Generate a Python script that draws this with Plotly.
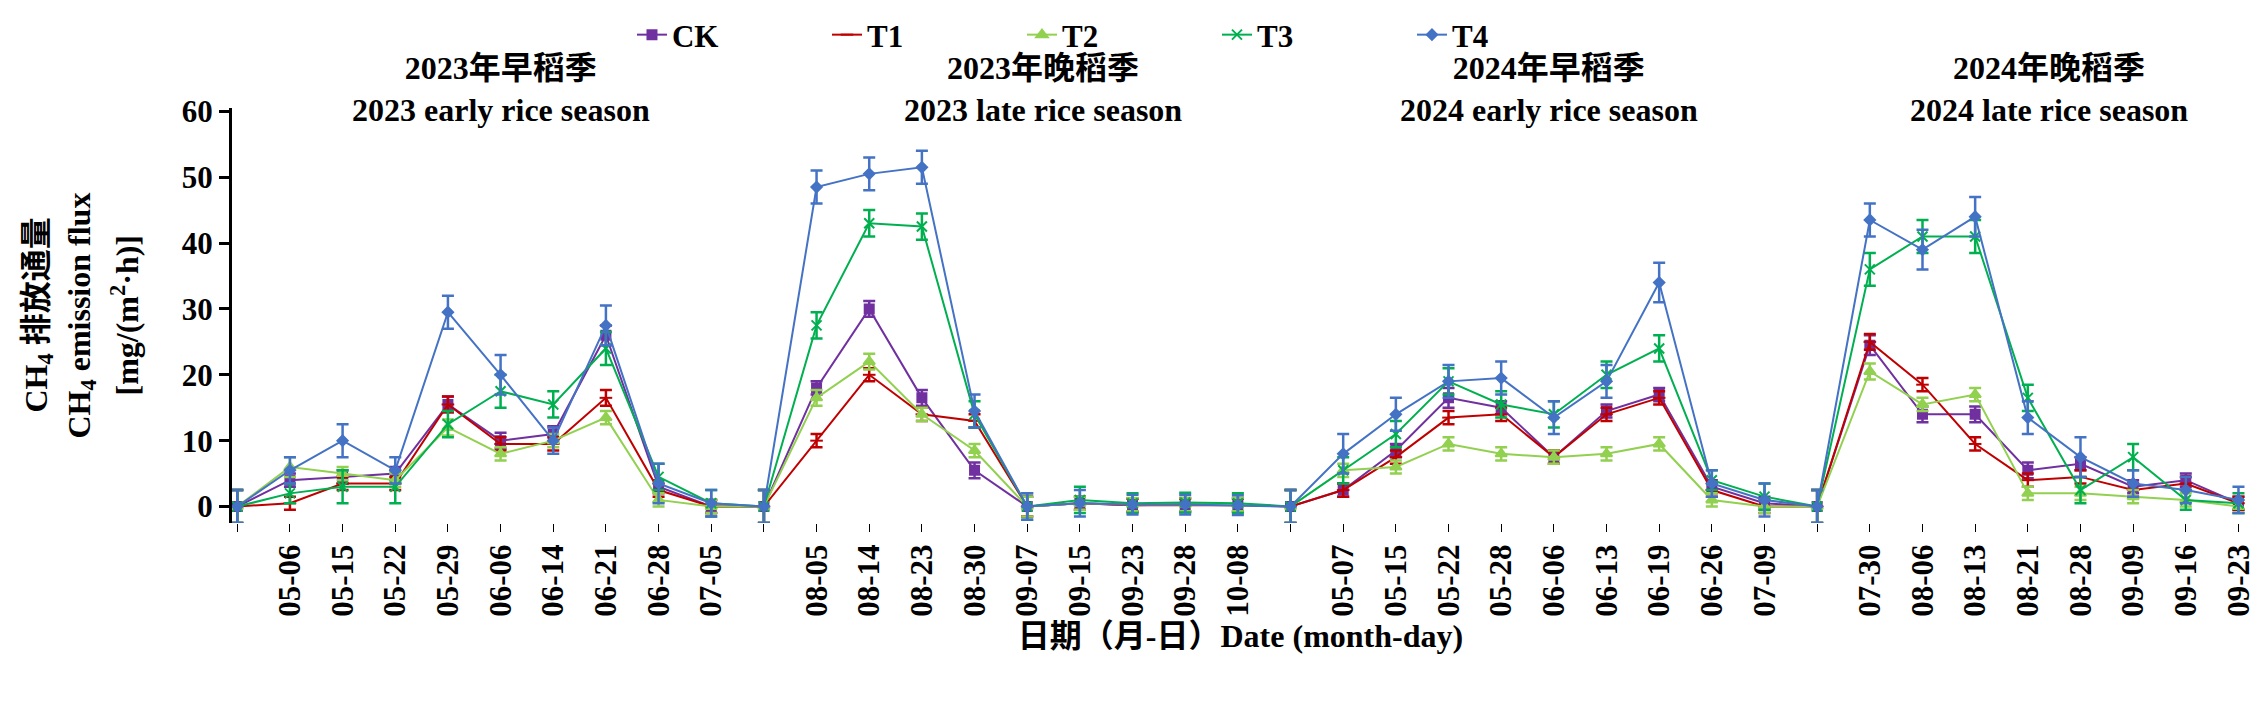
import plotly.graph_objects as go

# x labels per season; '' = season start point
season1 = ["", "05-06", "05-15", "05-22", "05-29", "06-06", "06-14", "06-21", "06-28", "07-05"]
season2 = ["", "08-05", "08-14", "08-23", "08-30", "09-07", "09-15", "09-23", "09-28", "10-08"]
season3 = ["", "05-07", "05-15", "05-22", "05-28", "06-06", "06-13", "06-19", "06-26", "07-09"]
season4 = ["", "07-30", "08-06", "08-13", "08-21", "08-28", "09-09", "09-16", "09-23"]
labels = season1 + season2 + season3 + season4

ck = [0, 4, 4.5, 5, 15.5, 10, 11, 26, 3, 0,
      0, 18, 30, 16.5, 5.5, 0, 0.5, 0.2, 0.3, 0.3,
      0, 2.5, 8.5, 16.5, 15, 7.5, 14.5, 17, 3, 0.5,
      0, 24.5, 14, 14, 5.5, 6.5, 3, 4, 0.5]
t1 = [0, 0.5, 3.5, 3.5, 15.5, 9.5, 9.5, 16.5, 2.5, 0,
      0, 10, 20, 14, 13, 0, 0.5, 0.2, 0.2, 0.2,
      0, 2.5, 7.5, 13.5, 14, 7.5, 14, 16.5, 2.5, 0,
      0, 25, 18.5, 9.5, 4, 4.5, 2.5, 3.5, 0.5]
t2 = [0, 6, 5, 4, 12, 8, 10, 13.5, 1, 0,
      0, 16.5, 22, 14, 8.5, 0, 0.5, 0.3, 0.3, 0.3,
      0, 5.5, 6, 9.5, 8, 7.5, 8, 9.5, 1, 0,
      0, 20.5, 15.5, 17, 2, 2, 1.5, 1, 0]
t3 = [0, 2, 3, 3, 12.5, 17.5, 15.5, 24, 4.5, 0.5,
      0, 27.5, 43, 42.5, 14, 0, 1, 0.5, 0.6, 0.5,
      0, 5.5, 11, 19, 15.5, 14, 20, 24, 4, 1.5,
      0, 36, 41, 41, 16.5, 2.5, 7.5, 1, 0.5]
t4 = [0, 5.5, 10, 5.5, 29.5, 20, 10, 27.5, 3.5, 0.5,
      0, 48.5, 50.5, 51.5, 14.5, 0, 0.5, 0.3, 0.3, 0.2,
      0, 8, 14, 19, 19.5, 13.5, 19, 34, 3.5, 1,
      0, 43.5, 39, 44, 13.5, 7.5, 3.5, 2.5, 1]

ck_err = [2.5, 1, 1, 1, 1.2, 1.2, 1.2, 1.5, 1, 1,
          2.5, 1, 1.2, 1.2, 1.2, 1.5, 1, 1, 1, 1,
          2.5, 1, 1, 1.5, 1, 1, 1, 1, 1, 1,
          2.5, 1.5, 1.2, 1.2, 1.2, 1, 1, 1, 1]
t1_err = [2.5, 1, 1, 1, 1.2, 1, 1, 1.2, 1, 1,
          2.5, 1, 1, 1, 1, 1.5, 1, 1, 1, 1,
          2.5, 1, 1, 1, 1, 1, 1, 1, 1, 1,
          2.5, 1.2, 1, 1, 1, 1, 1, 1, 1]
t2_err = [2.5, 1.5, 1, 1, 1.2, 1, 1, 1, 1, 1,
          2.5, 1.2, 1.2, 1, 1, 1.5, 1, 1, 1, 1,
          2.5, 1, 1, 1, 1, 1, 1, 1, 1, 1,
          2.5, 1.2, 1, 1, 1, 1, 1, 1, 1]
t3_err = [2.5, 1.5, 2.5, 2.5, 2, 2.5, 2, 2.5, 2, 2,
          2.5, 2, 2, 2, 2, 2, 2, 1.5, 1.5, 1.5,
          2.5, 2, 2, 2, 2, 2, 2, 2, 1.5, 2,
          2.5, 2.5, 2.5, 2.5, 2, 2, 2, 1.5, 1.5]
t4_err = [2.5, 2, 2.5, 2, 2.5, 3, 2, 3, 3, 2,
          2.5, 2.5, 2.5, 2.5, 2.5, 2, 2, 1.5, 1.5, 1.5,
          2.5, 3, 2.5, 2.5, 2.5, 2.5, 2.5, 3, 2, 2.5,
          2.5, 2.5, 3, 3, 2.5, 3, 2, 2, 2]

season_titles = ["2023年早稻季<br>2023 early rice season", "2023年晚稻季<br>2023 late rice season",
                 "2024年早稻季<br>2024 early rice season", "2024年晚稻季<br>2024 late rice season"]
title_x = [5.0, 15.3, 24.9, 34.4]

font = "Liberation Serif, Noto Sans CJK SC, serif"
x = list(range(len(labels)))

series = [
    ("CK", ck, ck_err, "#7030A0", "square", 9),
    ("T1", t1, t1_err, "#C00000", "line-ew", 9),
    ("T2", t2, t2_err, "#92D050", "triangle-up", 10),
    ("T3", t3, t3_err, "#00B050", "x-thin", 10),
    ("T4", t4, t4_err, "#4472C4", "diamond", 8),
]

fig = go.Figure()
for name, y, err, color, sym, size in series:
    fig.add_trace(go.Scatter(
        x=x, y=y, name="<b>" + name + "</b>", mode="lines+markers",
        line=dict(color=color, width=2),
        marker=dict(symbol=sym, size=size, color=color, line=dict(color=color, width=2)),
        error_y=dict(type="data", array=err, color=color, thickness=2.5, width=6),
    ))

for t, tx in zip(season_titles, title_x):
    fig.add_annotation(x=tx, y=1.045, xref="x", yref="paper", text="<b>" + t + "</b>",
                       showarrow=False, yanchor="middle",
                       font=dict(size=32, family=font, color="black"))

ylab = ["<b>CH<sub>4</sub> 排放通量</b>", "<b>CH<sub>4</sub> emission flux</b>", "<b>[mg/(m<sup>2</sup>·h)]</b>"]
for i, t in enumerate(ylab):
    fig.add_annotation(x=(30 + 43 * i - 224) / 2017, y=0.5, xref="paper", yref="paper", text=t,
                       textangle=-90, showarrow=False, xanchor="center",
                       font=dict(size=32, family=font, color="black"))

fig.update_layout(
    width=2268, height=711,
    margin=dict(l=224, r=27, t=100, b=196),
    plot_bgcolor="white", paper_bgcolor="white",
    font=dict(family=font, size=31, color="black"),
    showlegend=True,
    legend=dict(orientation="h", x=0.44, xanchor="center", y=1.0, yref="container",
                yanchor="top", font=dict(size=31), entrywidth=150, tracegroupgap=0),
    xaxis=dict(range=[-0.1, 38.2], tickvals=x, ticktext=["<b>" + s + "</b>" if s else "" for s in labels],
               tickangle=-90, ticks="outside", ticklen=8, showgrid=False, zeroline=False,
               showline=False, tickcolor="black",
               title=dict(text="<b>日期（月-日）Date (month-day)</b>", font=dict(size=32), standoff=8)),
    yaxis=dict(range=[-2.5, 60.5], tickvals=[0, 10, 20, 30, 40, 50, 60],
               ticktext=["<b>%d</b>" % v for v in [0, 10, 20, 30, 40, 50, 60]],
               ticks="outside", ticklen=10, showline=True, linecolor="black", linewidth=3,
               showgrid=False, zeroline=False, tickcolor="black", tickwidth=3),
)

fig.write_html("out.html")
